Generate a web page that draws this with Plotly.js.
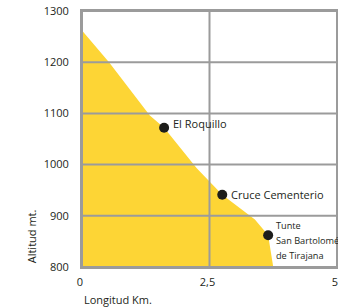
<!DOCTYPE html>
<html>
<head>
<meta charset="utf-8">
<script src="https://cdn.plot.ly/plotly-3.0.1.min.js"></script>
<style>html,body{margin:0;padding:0;background:#fff;}#chart{width:338px;height:308px;}</style>
</head>
<body>
<div id="chart"></div>
<script>
// Elevation profile (km, m)
var profileKm  = [0, 0.53, 1.33, 1.61, 2.25, 2.75, 3.39, 3.65, 3.75];
var profileAlt = [1262, 1200, 1096, 1072, 993, 941, 893, 862, 800];
// Named stops
var stopNames = ["El Roquillo", "Cruce Cementerio", "Tunte<br>San Bartolomé<br>de Tirajana"];
var stopKm    = [1.61, 2.75, 3.65];
var stopAlt   = [1072, 941, 862];
// Ticks
var xTicks = [0, 2.5, 5];
var yTicks = [800, 900, 1000, 1100, 1200, 1300];

var textColor = '#231f20';
var gridColor = '#9b9b9b';
var font = {family: 'Open Sans, sans-serif', size: 11, color: textColor};
var smallFont = {family: 'Open Sans, sans-serif', size: 9.2, color: textColor};

var traces = [
  {x: profileKm, y: profileAlt, type: 'scatter', mode: 'lines', fill: 'tozeroy',
   fillcolor: '#fdd535', line: {width: 0, color: '#fdd535'}, hoverinfo: 'skip'},
  {x: stopKm, y: stopAlt, type: 'scatter', mode: 'markers',
   marker: {size: 10, color: '#1d1d1b'}, cliponaxis: false}
];

var shapes = [];
yTicks.forEach(function(v){
  shapes.push({type: 'line', layer: 'above', xref: 'paper', x0: 0, x1: 1, yref: 'y', y0: v, y1: v,
               line: {color: gridColor, width: 2}});
});
xTicks.forEach(function(v){
  shapes.push({type: 'line', layer: 'above', yref: 'paper', y0: 0, y1: 1, xref: 'x', x0: v, x1: v,
               line: {color: gridColor, width: 2}});
});

var annotations = [];
var yShifts = [4, 0];
stopNames.forEach(function(n, i){
  var lines = n.split('<br>');
  if (lines.length === 1) {
    annotations.push({x: stopKm[i], y: stopAlt[i], xref: 'x', yref: 'y', text: n, showarrow: false,
          xanchor: 'left', yanchor: 'middle', align: 'left', xshift: 7, yshift: yShifts[i], font: font});
  } else {
    lines.forEach(function(line, j){
      annotations.push({x: stopKm[i], y: stopAlt[i], xref: 'x', yref: 'y', text: line, showarrow: false,
          xanchor: 'left', yanchor: 'middle', align: 'left', xshift: 6, yshift: 9.5 - 15 * j, font: smallFont});
    });
  }
});
annotations.push({xref: 'paper', yref: 'paper', x: -0.2, y: 0.12, text: 'Altitud mt.', textangle: -90,
                  showarrow: false, xanchor: 'center', yanchor: 'middle', font: font});
annotations.push({xref: 'paper', yref: 'paper', x: 0, y: -0.125, text: 'Longitud Km.',
                  showarrow: false, xanchor: 'left', yanchor: 'middle', font: font});

var layout = {
  width: 338, height: 308,
  margin: {l: 82, r: 1, t: 11, b: 41, pad: 0},
  paper_bgcolor: '#fff', plot_bgcolor: '#fff',
  separators: ',.',
  showlegend: false,
  font: font,
  xaxis: {range: [0, 5], tickvals: xTicks, showgrid: false, zeroline: false,
          showline: true, mirror: true, linecolor: gridColor, linewidth: 2,
          ticks: '', ticklabelstandoff: 4, ticklabelshift: -2, ticklabeloverflow: 'allow',
          tickfont: font, fixedrange: true},
  yaxis: {range: [800, 1300], tickvals: yTicks, showgrid: false, zeroline: false,
          showline: true, mirror: true, linecolor: gridColor, linewidth: 2,
          ticks: '', ticklabelstandoff: 9, tickfont: font, fixedrange: true},
  shapes: shapes,
  annotations: annotations
};

Plotly.newPlot('chart', traces, layout, {displayModeBar: false, staticPlot: true});
</script>
</body>
</html>
